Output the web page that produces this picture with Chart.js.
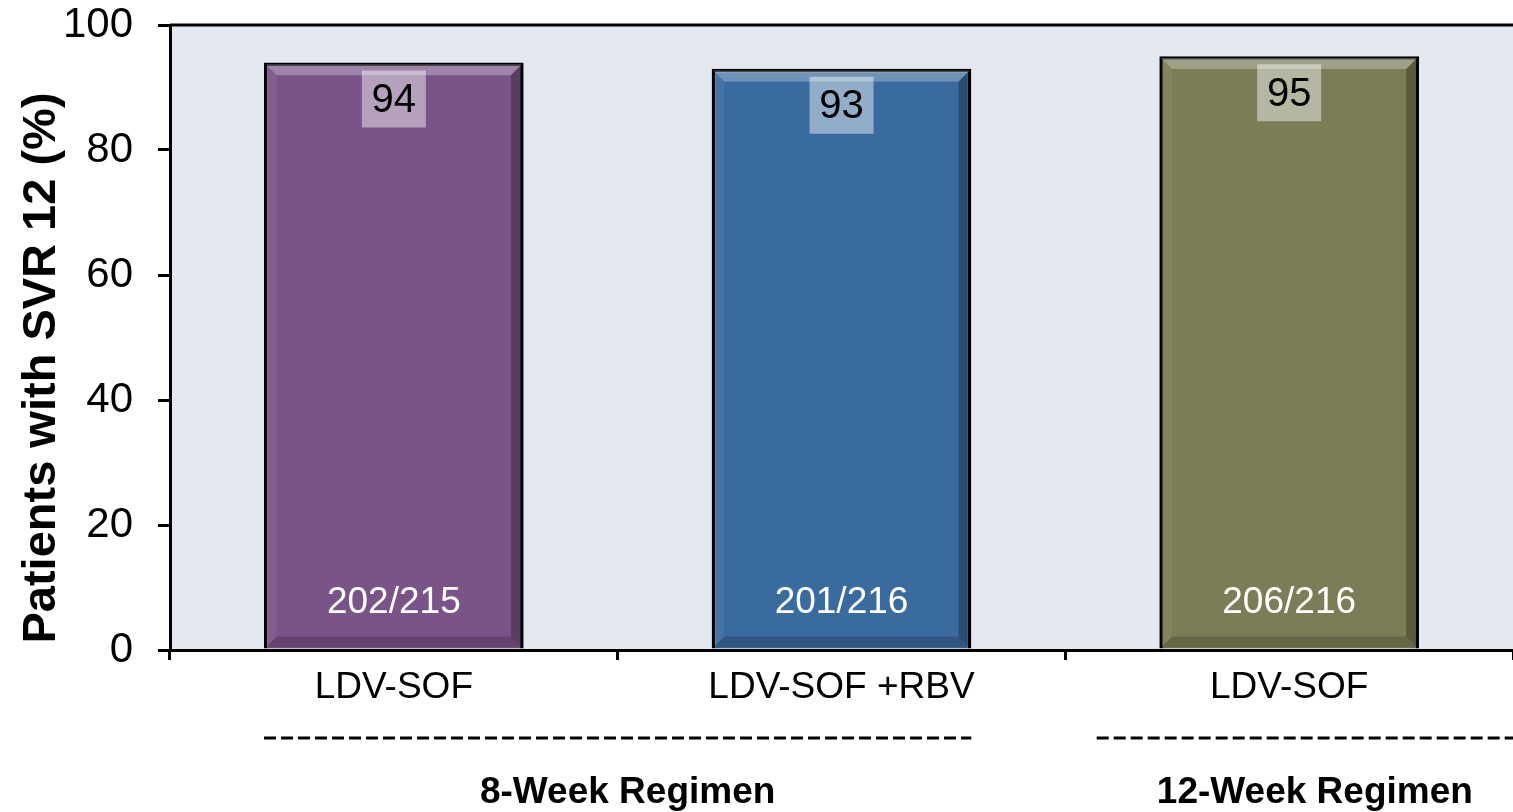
<!DOCTYPE html>
<html>
<head>
<meta charset="utf-8">
<script src="https://cdn.jsdelivr.net/npm/chart.js@4.4.1/dist/chart.umd.min.js"></script>
<style>
  html, body { margin: 0; padding: 0; background: #fff; }
  #wrap { width: 1513px; height: 812px; position: relative; }
</style>
</head>
<body>
<div id="wrap"><canvas id="svrChart"></canvas></div>
<script>
// data
const categories = ['LDV-SOF', 'LDV-SOF +RBV', 'LDV-SOF'];
const svrPercent = [94, 93, 95];
const patientCounts = ['202/215', '201/216', '206/216'];
const barColors = ['#7A5488', '#3A6B9F', '#7B7D56'];
const yTicks = [0, 20, 40, 60, 80, 100];
const groupLabels = ['8-Week Regimen', '12-Week Regimen'];
const groupFirst = [0, 2];
const groupLast = [1, 2];

const FONT = "'Liberation Sans', Arial, sans-serif";

function poly(ctx, pts, fill) {
    ctx.beginPath();
    ctx.moveTo(pts[0][0], pts[0][1]);
    for (let i = 1; i < pts.length; i++) ctx.lineTo(pts[i][0], pts[i][1]);
    ctx.closePath();
    ctx.fillStyle = fill;
    ctx.fill();
}

const decor = {
    id: 'decor',
    beforeDraw(chart) {
        const { ctx, chartArea: a } = chart;
        ctx.save();
        ctx.fillStyle = '#E4E8F1';
        ctx.fillRect(a.left, a.top, a.right - a.left, a.bottom - a.top);
        ctx.restore();
    },
    afterDatasetsDraw(chart) {
        const ctx = chart.ctx;
        const meta = chart.getDatasetMeta(0);
        meta.data.forEach((bar, i) => {
            const { x, y, width, base } = bar.getProps(['x', 'y', 'width', 'base'], true);
            const l = x - width / 2 + 1.75, r = x + width / 2 - 1.75, t = y + 1.75, b = base - 1;
            const d = 11;
            ctx.save();
            // bevel look
            poly(ctx, [[l, t], [r, t], [r - d, t + d], [l + d, t + d]], 'rgba(255,255,255,0.28)');
            poly(ctx, [[l, t], [l + d, t + d], [l + d, b - d], [l, b]], 'rgba(255,255,255,0.06)');
            poly(ctx, [[r, t], [r, b], [r - d, b - d], [r - d, t + d]], 'rgba(0,0,0,0.28)');
            poly(ctx, [[l, b], [r, b], [r - d, b - d], [l + d, b - d]], 'rgba(0,0,0,0.18)');

            // value box
            const bw = 64, bh = 57, bt = y + 8;
            ctx.fillStyle = 'rgba(255,255,255,0.45)';
            ctx.fillRect(x - bw / 2, bt, bw, bh);
            ctx.fillStyle = '#000';
            ctx.font = '40px ' + FONT;
            ctx.textAlign = 'center';
            ctx.textBaseline = 'middle';
            ctx.fillText(String(svrPercent[i]), x, bt + bh / 2 + 2);

            ctx.fillStyle = '#fff';
            ctx.font = '37px ' + FONT;
            ctx.fillText(patientCounts[i], x, base - 46);
            ctx.restore();
        });
    },
    afterDraw(chart, args, opts) {
        const { ctx, chartArea: a } = chart;
        const xs = chart.scales.x;
        const catW = xs.getPixelForValue(1) - xs.getPixelForValue(0);
        ctx.save();
        // top frame line
        ctx.strokeStyle = '#000';
        ctx.lineWidth = 3;
        ctx.beginPath();
        ctx.moveTo(a.left, a.top);
        ctx.lineTo(a.right, a.top);
        ctx.stroke();

        // group brackets
        groupLabels.forEach((g, k) => {
            const pad = opts.linePad[k];
            const x0 = xs.getPixelForValue(groupFirst[k]) - pad[0] * catW;
            const x1 = Math.min(xs.getPixelForValue(groupLast[k]) + pad[1] * catW, chart.width);
            ctx.setLineDash([12, 5]);
            ctx.lineWidth = 3;
            ctx.strokeStyle = '#000';
            ctx.beginPath();
            ctx.moveTo(x0, 738);
            ctx.lineTo(x1, 738);
            ctx.stroke();
            ctx.setLineDash([]);
            ctx.fillStyle = '#000';
            ctx.font = 'bold 37px ' + FONT;
            ctx.textAlign = 'center';
            ctx.textBaseline = 'middle';
            ctx.fillText(g, (x0 + x1) / 2 + 10, 793);
        });

        // y axis title
        ctx.translate(42, 368);
        ctx.rotate(-Math.PI / 2);
        ctx.fillStyle = '#000';
        ctx.font = 'bold 47px ' + FONT;
        ctx.textAlign = 'center';
        ctx.textBaseline = 'middle';
        ctx.fillText('Patients with SVR 12 (%)', 0, 0);
        ctx.restore();
    }
};

const ctx = document.getElementById('svrChart').getContext('2d');
const svrChart = new Chart(ctx, {
    type: 'bar',
    data: {
        labels: categories,
        datasets: [{
            data: svrPercent,
            backgroundColor: barColors,
            borderColor: '#000000',
            borderWidth: 3.5,
            barPercentage: 0.58,
            categoryPercentage: 1.0
        }]
    },
    options: {
        responsive: true,
        maintainAspectRatio: false,
        animation: false,
        devicePixelRatio: 1,
        layout: { padding: { top: 25, left: 0, right: 0, bottom: 0 } },
        scales: {
            x: {
                afterFit: s => { s.height = 162; s.paddingLeft = 0; s.paddingRight = 0; },
                grid: { display: true, drawOnChartArea: false, color: '#000', lineWidth: 3, tickLength: 10, offset: true },
                border: { color: '#000', width: 3 },
                ticks: { color: '#000', font: { family: FONT, size: 37 }, padding: 6, maxRotation: 0 }
            },
            y: {
                min: 0,
                max: 100,
                afterFit: s => { s.width = 170; s.paddingTop = 0; s.paddingBottom = 0; },
                afterBuildTicks: s => { s.ticks = yTicks.map(v => ({ value: v })); },
                grid: { display: true, drawOnChartArea: false, color: '#000', lineWidth: 3, tickLength: 12 },
                border: { color: '#000', width: 3 },
                ticks: { color: '#000', font: { family: FONT, size: 42 }, padding: 25 }
            }
        },
        plugins: {
            legend: { display: false },
            tooltip: { enabled: false },
            decor: { linePad: [[0.29, 0.29], [0.43, 0.6]] }
        }
    },
    plugins: [decor]
});
</script>
</body>
</html>
